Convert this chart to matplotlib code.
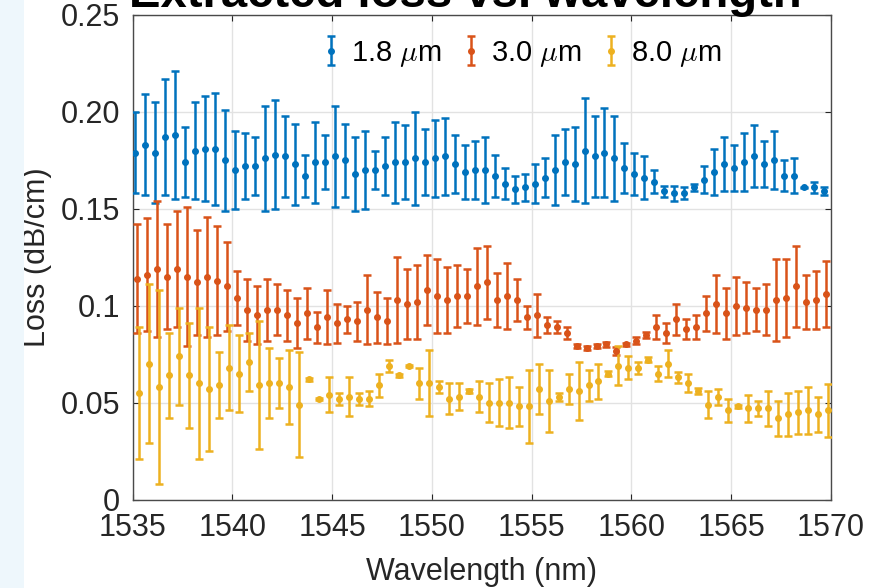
import numpy as np
import matplotlib
matplotlib.use("Agg")
import matplotlib.pyplot as plt
from matplotlib.patches import Rectangle

plt.rcParams['font.family'] = ['Liberation Sans', 'DejaVu Sans']
plt.rcParams['mathtext.fontset'] = 'cm'

# Measurement wavelength grids (nm), one sample every 0.5 nm per waveguide width
wl_18 = np.round(np.arange(1535.15, 1569.7, 0.5), 2)
wl_30 = np.round(np.arange(1535.25, 1569.8, 0.5), 2)
wl_80 = np.round(np.arange(1535.35, 1569.9, 0.5), 2)

loss_18 = [0.179, 0.183, 0.179, 0.187, 0.188, 0.174, 0.180, 0.181, 0.181, 0.175,
           0.170, 0.172, 0.172, 0.176, 0.178, 0.177, 0.173, 0.167, 0.174, 0.174,
           0.177, 0.175, 0.168, 0.170, 0.170, 0.172, 0.174, 0.174, 0.176, 0.174,
           0.176, 0.177, 0.173, 0.169, 0.170, 0.170, 0.167, 0.163, 0.160, 0.161,
           0.163, 0.166, 0.170, 0.174, 0.173, 0.180, 0.177, 0.179, 0.176, 0.171,
           0.168, 0.166, 0.164, 0.159, 0.158, 0.158, 0.161, 0.165, 0.169, 0.173,
           0.171, 0.174, 0.177, 0.173, 0.175, 0.167, 0.167, 0.161, 0.161, 0.159]
err_18 = [0.021, 0.026, 0.026, 0.030, 0.033, 0.018, 0.025, 0.027, 0.029, 0.026,
          0.020, 0.017, 0.015, 0.027, 0.028, 0.021, 0.021, 0.011, 0.021, 0.014,
          0.026, 0.019, 0.019, 0.020, 0.010, 0.015, 0.021, 0.019, 0.024, 0.017,
          0.020, 0.020, 0.015, 0.014, 0.015, 0.017, 0.011, 0.008, 0.007, 0.007,
          0.010, 0.010, 0.018, 0.017, 0.019, 0.027, 0.021, 0.023, 0.022, 0.013,
          0.011, 0.011, 0.006, 0.003, 0.004, 0.003, 0.002, 0.007, 0.012, 0.014,
          0.012, 0.015, 0.016, 0.012, 0.015, 0.008, 0.009, 0.0005, 0.003, 0.002]

loss_30 = [0.114, 0.116, 0.119, 0.115, 0.119, 0.115, 0.112, 0.115, 0.113, 0.110,
           0.104, 0.098, 0.095, 0.098, 0.098, 0.095, 0.091, 0.096, 0.089, 0.094,
           0.091, 0.093, 0.092, 0.098, 0.094, 0.092, 0.103, 0.101, 0.102, 0.108,
           0.105, 0.103, 0.105, 0.105, 0.110, 0.112, 0.103, 0.105, 0.103, 0.094,
           0.095, 0.090, 0.089, 0.086, 0.079, 0.078, 0.079, 0.080, 0.0765, 0.080,
           0.082, 0.085, 0.089, 0.086, 0.093, 0.088, 0.089, 0.096, 0.101, 0.096,
           0.100, 0.099, 0.098, 0.098, 0.103, 0.104, 0.110, 0.102, 0.103, 0.106]
err_30 = [0.028, 0.029, 0.035, 0.027, 0.030, 0.036, 0.027, 0.031, 0.028, 0.023,
          0.014, 0.016, 0.015, 0.016, 0.013, 0.013, 0.013, 0.013, 0.008, 0.014,
          0.010, 0.007, 0.010, 0.018, 0.013, 0.012, 0.022, 0.018, 0.019, 0.018,
          0.019, 0.017, 0.016, 0.014, 0.020, 0.019, 0.014, 0.017, 0.011, 0.006,
          0.011, 0.004, 0.003, 0.003, 0.001, 0.001, 0.001, 0.0015, 0.002, 0.001,
          0.0017, 0.0015, 0.006, 0.005, 0.008, 0.005, 0.006, 0.009, 0.015, 0.013,
          0.015, 0.013, 0.011, 0.013, 0.021, 0.020, 0.021, 0.014, 0.015, 0.017]

loss_80 = [0.055, 0.070, 0.058, 0.064, 0.074, 0.064, 0.060, 0.057, 0.059, 0.068,
           0.065, 0.071, 0.059, 0.060, 0.060, 0.058, 0.049, 0.062, 0.052, 0.054,
           0.052, 0.053, 0.052, 0.052, 0.059, 0.069, 0.064, 0.069, 0.060, 0.060,
           0.058, 0.052, 0.053, 0.056, 0.053, 0.050, 0.050, 0.050, 0.048, 0.048,
           0.057, 0.051, 0.053, 0.057, 0.056, 0.059, 0.061, 0.065, 0.069, 0.068,
           0.068, 0.072, 0.065, 0.070, 0.063, 0.060, 0.056, 0.049, 0.053, 0.046,
           0.048, 0.047, 0.047, 0.047, 0.042, 0.044, 0.045, 0.046, 0.044, 0.046]
err_80 = [0.034, 0.041, 0.050, 0.022, 0.025, 0.027, 0.039, 0.032, 0.017, 0.022,
          0.020, 0.015, 0.033, 0.018, 0.013, 0.019, 0.027, 0.0008, 0.0005, 0.009,
          0.003, 0.010, 0.003, 0.004, 0.006, 0.003, 0.0008, 0.0005, 0.008, 0.017,
          0.003, 0.008, 0.007, 0.0008, 0.008, 0.010, 0.012, 0.013, 0.010, 0.019,
          0.013, 0.016, 0.002, 0.0075, 0.015, 0.008, 0.009, 0.0015, 0.010, 0.006,
          0.003, 0.0013, 0.004, 0.007, 0.003, 0.0045, 0.0014, 0.007, 0.004, 0.006,
          0.0006, 0.007, 0.004, 0.009, 0.009, 0.011, 0.011, 0.012, 0.009, 0.0135]

labels = [r'1.8 $\mu$m', r'3.0 $\mu$m', r'8.0 $\mu$m']
colors = ['#0072BD', '#D95319', '#EDB120']
xticks = [1535, 1540, 1545, 1550, 1555, 1560, 1565, 1570]
yticks = [0, 0.05, 0.1, 0.15, 0.20, 0.25]
ytick_labels = ['0', '0.05', '0.1', '0.15', '0.20', '0.25']

fig = plt.figure(figsize=(8.84, 5.88), dpi=100)
# faint slide-background strip at the far left
fig.patches.append(Rectangle((0, 0), 24 / 884, 1, transform=fig.transFigure,
                             facecolor='#eef7fc', edgecolor='none', zorder=0))
ax = fig.add_axes([132.5 / 884, 1 - 499.5 / 588, (831 - 132.5) / 884, (499.5 - 15) / 588])

handles = []
for wl, y, e, c, lab in zip([wl_18, wl_30, wl_80], [loss_18, loss_30, loss_80],
                            [err_18, err_30, err_80], colors, labels):
    h = ax.errorbar(wl, y, yerr=e, fmt='o', color=c, ecolor=c, markersize=4.0,
                    elinewidth=1.8, capsize=3, capthick=1.8, label=lab, zorder=3)
    handles.append(h)

ax.set_xlim(1535, 1570)
ax.set_ylim(0, 0.25)
ax.set_xticks(xticks)
ax.set_xticklabels([str(t) for t in xticks])
ax.set_yticks(yticks)
ax.set_yticklabels(ytick_labels)
ax.grid(True, color='#e2e2e2', linewidth=1.0, zorder=0)
ax.set_axisbelow(True)
for s in ax.spines.values():
    s.set_color('#4a4a4a')
    s.set_linewidth(1.0)
ax.tick_params(direction='in', length=4, width=0.8, colors='#262626',
               labelsize=22, top=True, right=True)
ax.tick_params(axis='y', pad=9)
ax.tick_params(axis='x', pad=10)
ax.set_xlabel('Wavelength (nm)', fontsize=22, color='#262626', labelpad=10)
ax.set_ylabel('Loss (dB/cm)', fontsize=22, color='#262626', labelpad=6)

leg = ax.legend(handles=handles, labels=labels, loc='center', ncol=3,
                bbox_to_anchor=(0.556, 0.9195), frameon=False, fontsize=21,
                handlelength=0.7, handletextpad=0.35, columnspacing=0.65)

fig.text(465 / 884, 1 - 7 / 588, 'Extracted loss vs. wavelength', ha='center',
         va='baseline', fontsize=34, fontweight='bold', color='black')

fig.savefig('out.png', dpi=100, facecolor='white')
